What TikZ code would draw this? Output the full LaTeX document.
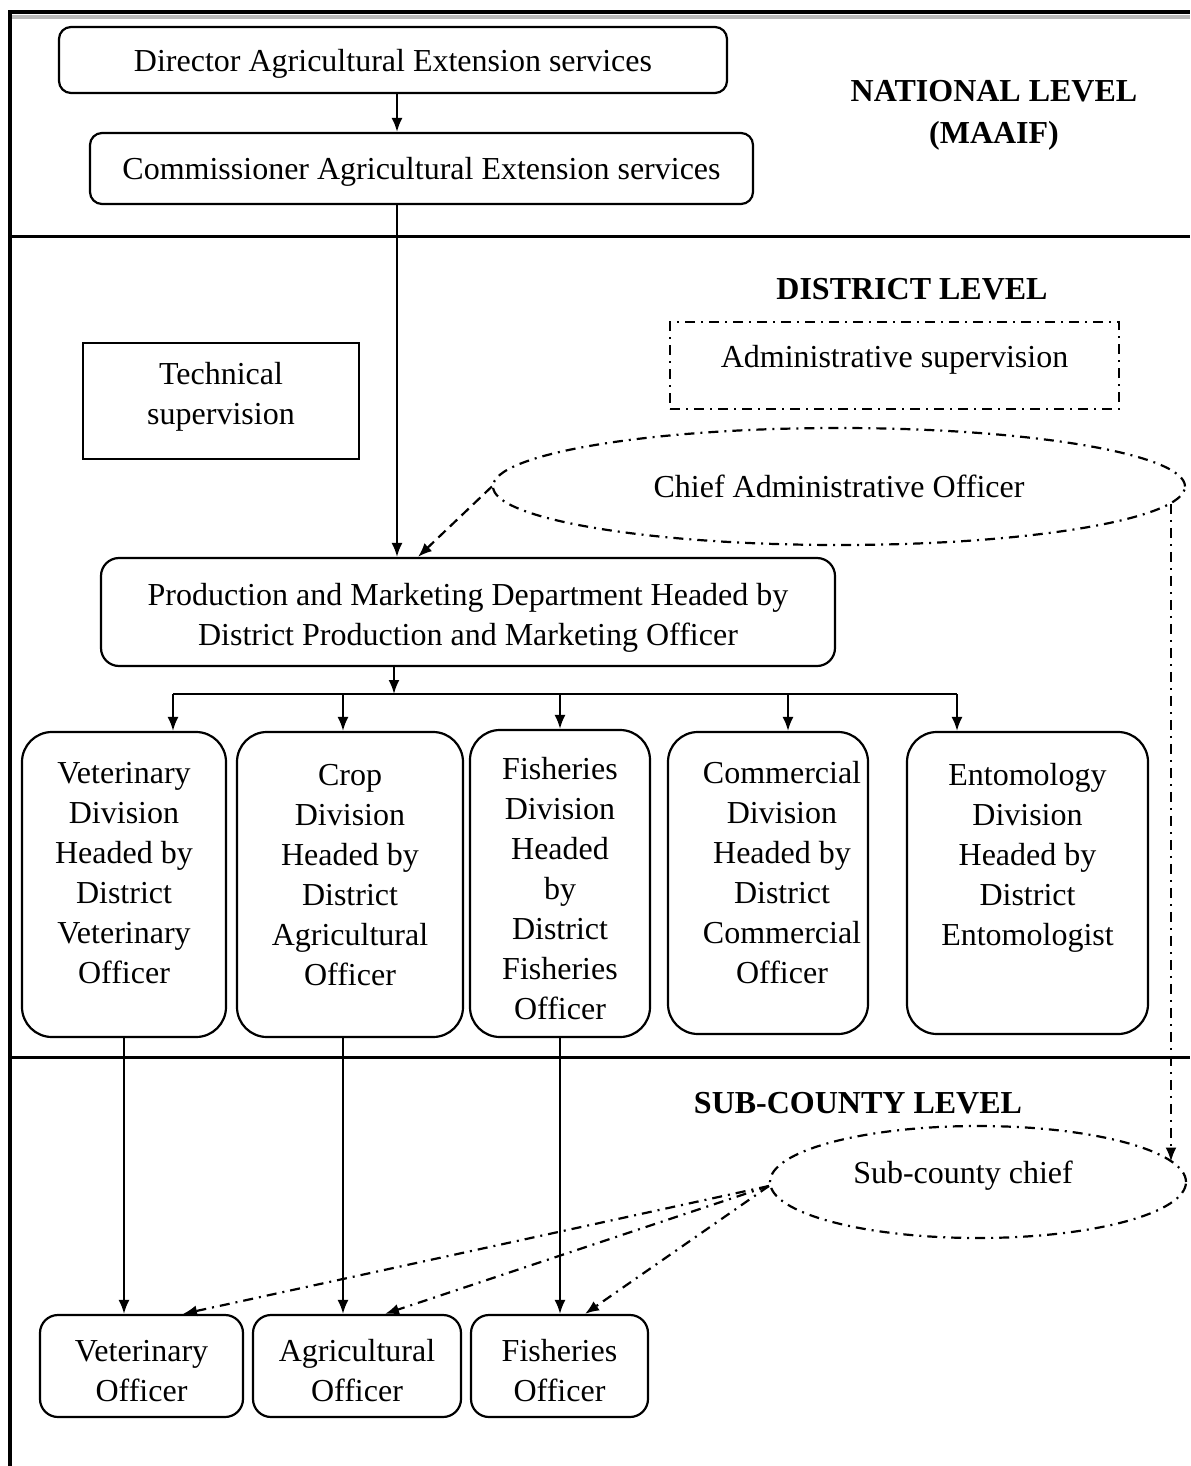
\documentclass[tikz,border=0pt]{standalone}
\usepackage{fontspec}
\setmainfont{Liberation Serif}
\usetikzlibrary{arrows.meta,shapes.geometric}
\newcommand{\mlines}[1]{\begin{tabular}[t]{@{}c@{}}#1\end{tabular}}
\begin{document}
\begin{tikzpicture}[x=0.5pt,y=-0.5pt,
  every node/.style={font=\fontsize{16}{20}\selectfont},
  tpos/.style={text height=14pt,text depth=#1},
  box/.style={draw,line width=1.1pt,rounded corners=6pt,inner sep=0pt},
  divbox/.style={draw,line width=1.1pt,rounded corners=15pt,inner sep=0pt},
  divtext/.style={anchor=base,inner sep=0pt},
  arr/.style={line width=1pt,-{Latex[length=7pt,width=5.5pt]}},
  dashdot/.style={line width=1.1pt,dash pattern=on 5pt off 3pt on 1pt off 3pt},
  dashline/.style={line width=1.1pt,dash pattern=on 5pt off 3pt},
  heading/.style={font=\fontsize{16}{21}\selectfont\bfseries,inner sep=0pt},
  framel/.style={line width=2pt}
]
\useasboundingbox (0,0) rectangle (1190,1466);

% frame
\draw[line width=2pt, gray!55] (12,17) -- (1190,17);
\draw[framel] (10,1466) -- (10,12) -- (1190,12);
\draw[line width=1.5pt] (10,237) -- (1190,237);
\draw[line width=1.5pt] (10,1057) -- (1190,1057);

% national level
\node[box, minimum width=334pt, minimum height=33pt, tpos=2.6pt] (dir) at (393,60) {\mlines{Director Agricultural Extension services}};
\node[box, minimum width=331.5pt, minimum height=35.5pt, tpos=3.1pt] (com) at (421.5,168.5) {\mlines{Commissioner Agricultural Extension services}};
\node[heading, tpos=23.6pt] (nat) at (994,111) {\begin{tabular}[t]{@{}c@{}}NATIONAL LEVEL\\(MAAIF)\end{tabular}};

% district level
\node[heading, tpos=2.6pt] (dist) at (912,288) {DISTRICT LEVEL};
\node[draw,line width=1.1pt,inner sep=0pt,minimum width=138pt,minimum height=58pt,tpos=30.6pt] (tech) at (221,401) {\mlines{Technical\\supervision}};
\node[draw,dashdot,inner sep=0pt,minimum width=224.5pt,minimum height=43.5pt,tpos=12.1pt] (adm) at (894.5,365.5) {\mlines{Administrative supervision}};
\node[draw,ellipse,dashdot,inner sep=0pt,minimum width=346pt,minimum height=58.5pt,tpos=3.1pt] (cao) at (839,486.5) {\mlines{Chief Administrative Officer}};
\node[box,rounded corners=9pt,minimum width=367pt,minimum height=54pt,tpos=20.6pt] (pmd) at (468,612) {\mlines{Production and Marketing Department Headed by\\District Production and Marketing Officer}};

% divisions
\node[divbox,minimum width=102pt,minimum height=152.5pt] (vet) at (124,884.5) {};
\node[divtext] (vett) at ([yshift=-26.2pt]vet.north) {\mlines{Veterinary\\Division\\Headed by\\District\\Veterinary\\Officer}};
\node[divbox,minimum width=113pt,minimum height=152.5pt] (crop) at (350,884.5) {};
\node[divtext] (cropt) at ([yshift=-27.2pt]crop.north) {\mlines{Crop\\Division\\Headed by\\District\\Agricultural\\Officer}};
\node[divbox,minimum width=90pt,minimum height=153.5pt] (fish) at (560,883.5) {};
\node[divtext] (fisht) at ([yshift=-25.2pt]fish.north) {\mlines{Fisheries\\Division\\Headed\\by\\District\\Fisheries\\Officer}};
\node[divbox,minimum width=100pt,minimum height=151pt] (comm) at (768,883) {};
\node[divtext] (commt) at ([xshift=7pt,yshift=-26.2pt]comm.north) {\mlines{Commercial\\Division\\Headed by\\District\\Commercial\\Officer}};
\node[divbox,minimum width=120.5pt,minimum height=151pt] (ento) at (1027.5,883) {};
\node[divtext] (entot) at ([yshift=-27.2pt]ento.north) {\mlines{Entomology\\Division\\Headed by\\District\\Entomologist}};

% sub-county level
\node[heading, tpos=2.6pt] (sub) at (858,1102) {SUB-COUNTY LEVEL};
\node[draw,ellipse,dashdot,inner sep=0pt,minimum width=208pt,minimum height=56pt,tpos=12.6pt] (scc) at (978,1182) {\mlines{Sub-county chief}\hspace*{15pt}};
\node[box,rounded corners=9pt,minimum width=101.5pt,minimum height=51pt,tpos=18.6pt] (vo) at (141.5,1366) {\mlines{Veterinary\\Officer}};
\node[box,rounded corners=9pt,minimum width=104pt,minimum height=51pt,tpos=18.6pt] (ao) at (357,1366) {\mlines{Agricultural\\Officer}};
\node[box,rounded corners=9pt,minimum width=88.5pt,minimum height=51pt,tpos=18.6pt] (fo) at (559.5,1366) {\mlines{Fisheries\\Officer}};

% connectors
\coordinate (cx) at (397,0);
\draw[arr] (dir.south -| cx) -- (com.north -| cx);
\draw[arr] (com.south -| cx) -- (pmd.north -| cx);
\draw[arr,dashline] (cao.west) -- ([xshift=-25pt]pmd.north);

\coordinate (bus) at (394,694);
\coordinate (b1) at (173,694);
\coordinate (b2) at (343,694);
\coordinate (b3) at (560,694);
\coordinate (b4) at (788,694);
\coordinate (b5) at (957,694);
\draw[arr] (pmd.south -| bus) -- (bus);
\draw[line width=1.1pt] (b1) -- (b5);
\foreach \n/\t in {b1/vet,b2/crop,b3/fish,b4/comm,b5/ento}
  \draw[arr] (\n) -- (\n |- \t.north);

\draw[arr] (vet.south) -- (vet.south |- vo.north);
\draw[arr] (crop.south -| b2) -- (ao.north -| b2);
\draw[arr] (fish.south) -- (fish.south |- fo.north);

\coordinate (sw) at ([yshift=-2pt]scc.west);
\draw[arr,dashdot] (cao.-3) -- (cao.-3 |- scc.6);
\draw[arr,dashdot] (sw) -- ([xshift=20.75pt]vo.north);
\draw[arr,dashdot] (sw) -- ([xshift=14pt]ao.north);
\draw[arr,dashdot] (sw) -- ([xshift=12.75pt]fo.north);
\end{tikzpicture}
\end{document}
